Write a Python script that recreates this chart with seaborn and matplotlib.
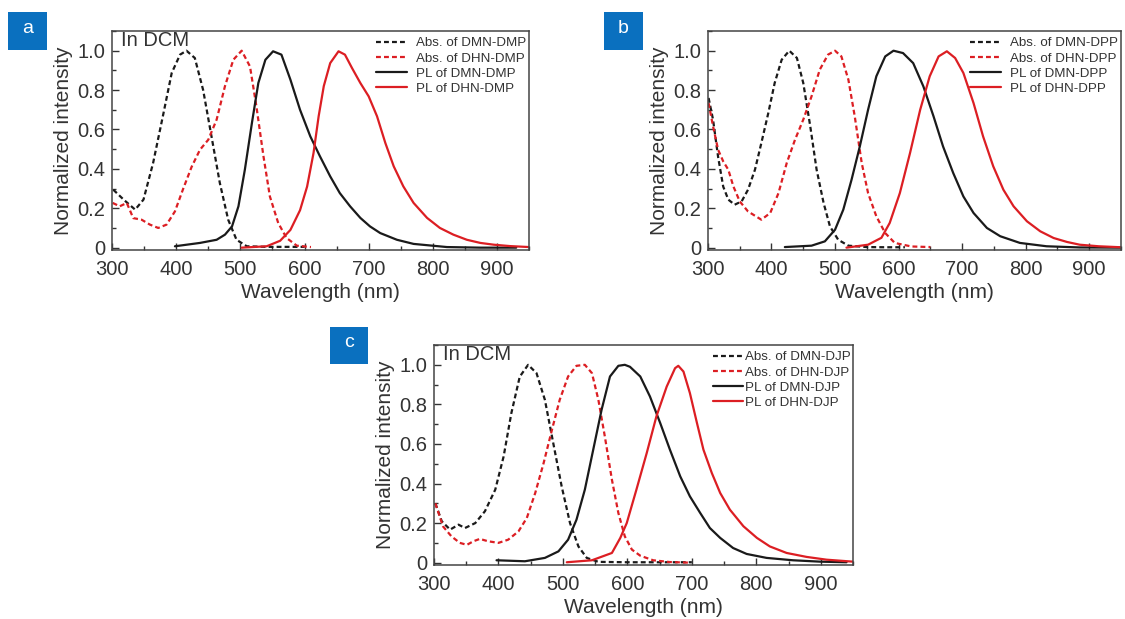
import numpy as np
import matplotlib
matplotlib.use("Agg")
import matplotlib.pyplot as plt
from matplotlib.patches import Rectangle
from matplotlib.ticker import MultipleLocator, FuncFormatter
import seaborn as sns

sns.set_style("ticks")
plt.rcParams['font.family'] = ['Liberation Sans', 'DejaVu Sans']

# ---- panel a : DMN-DMP / DHN-DMP ----
a_abs_dmn_x = [302, 318, 336, 349, 364, 380, 393, 406, 416, 429, 442, 455, 468, 481, 494, 510, 540, 570, 600]
a_abs_dmn_y = [0.294, 0.244, 0.193, 0.244, 0.43, 0.68, 0.887, 0.98, 1.0, 0.963, 0.80, 0.565, 0.328, 0.142, 0.04, 0.007, 0.004, 0.004, 0.004]
a_abs_dhn_x = [301, 312, 323, 333, 346, 359, 372, 385, 398, 411, 424, 437, 450, 463, 476, 489, 502, 515, 525, 536, 546, 559, 572, 588, 610]
a_abs_dhn_y = [0.227, 0.21, 0.227, 0.15, 0.142, 0.117, 0.10, 0.117, 0.184, 0.30, 0.41, 0.497, 0.548, 0.65, 0.82, 0.954, 1.0, 0.92, 0.717, 0.464, 0.26, 0.125, 0.049, 0.01, 0.003]
a_pl_dmn_x = [398, 437, 463, 476, 487, 497, 507, 518, 528, 539, 551, 564, 578, 593, 609, 624, 640, 655, 671, 687, 702, 718, 744, 770, 822, 874, 930]
a_pl_dmn_y = [0.007, 0.024, 0.04, 0.066, 0.108, 0.21, 0.396, 0.633, 0.836, 0.954, 0.997, 0.98, 0.853, 0.70, 0.565, 0.464, 0.362, 0.277, 0.21, 0.151, 0.108, 0.074, 0.04, 0.019, 0.003, 0.0, 0.0]
a_pl_dhn_x = [502, 541, 562, 578, 593, 604, 614, 622, 630, 640, 653, 663, 674, 687, 700, 713, 726, 739, 754, 770, 791, 811, 832, 853, 874, 895, 920, 950]
a_pl_dhn_y = [0.0, 0.007, 0.035, 0.09, 0.19, 0.31, 0.48, 0.667, 0.82, 0.937, 0.997, 0.98, 0.912, 0.836, 0.768, 0.667, 0.531, 0.413, 0.311, 0.227, 0.151, 0.10, 0.066, 0.04, 0.024, 0.015, 0.008, 0.003]

# ---- panel b : DMN-DPP / DHN-DPP ----
b_abs_dmn_x = [301, 308, 316, 324, 332, 342, 353, 363, 374, 384, 395, 405, 416, 428, 440, 450, 461, 471, 482, 492, 505, 521, 550, 580, 610]
b_abs_dmn_y = [0.76, 0.65, 0.46, 0.31, 0.244, 0.218, 0.235, 0.294, 0.396, 0.531, 0.684, 0.836, 0.954, 1.0, 0.963, 0.836, 0.616, 0.396, 0.227, 0.108, 0.04, 0.01, 0.003, 0.002, 0.002]
b_abs_dhn_x = [301, 308, 316, 324, 332, 340, 350, 363, 377, 384, 398, 411, 424, 437, 450, 463, 476, 489, 500, 510, 521, 531, 542, 552, 565, 579, 594, 620, 650]
b_abs_dhn_y = [0.734, 0.616, 0.497, 0.438, 0.396, 0.311, 0.235, 0.184, 0.156, 0.142, 0.176, 0.277, 0.43, 0.548, 0.65, 0.768, 0.904, 0.98, 1.0, 0.971, 0.853, 0.667, 0.43, 0.277, 0.159, 0.074, 0.024, 0.006, 0.003]
b_pl_dmn_x = [421, 463, 484, 500, 513, 526, 539, 552, 565, 579, 592, 607, 623, 639, 655, 670, 686, 702, 718, 739, 760, 791, 833, 885, 950]
b_pl_dmn_y = [0.003, 0.01, 0.032, 0.091, 0.193, 0.345, 0.514, 0.70, 0.87, 0.971, 1.0, 0.988, 0.937, 0.819, 0.667, 0.514, 0.379, 0.26, 0.176, 0.10, 0.058, 0.024, 0.007, 0.001, 0.0]
b_pl_dhn_x = [518, 552, 573, 586, 602, 618, 634, 649, 663, 676, 689, 702, 718, 733, 749, 765, 781, 802, 823, 844, 865, 885, 915, 950]
b_pl_dhn_y = [0.0, 0.015, 0.05, 0.125, 0.277, 0.48, 0.70, 0.87, 0.971, 0.997, 0.963, 0.887, 0.734, 0.565, 0.413, 0.294, 0.21, 0.134, 0.083, 0.049, 0.029, 0.015, 0.007, 0.002]

# ---- panel c : DMN-DJP / DHN-DJP ----
c_abs_dmn_x = [302, 312, 325, 338, 348, 364, 379, 395, 408, 420, 433, 446, 459, 472, 485, 498, 511, 524, 537, 555, 600, 650, 700]
c_abs_dmn_y = [0.30, 0.209, 0.167, 0.192, 0.175, 0.20, 0.26, 0.369, 0.537, 0.756, 0.94, 1.0, 0.958, 0.823, 0.604, 0.386, 0.20, 0.082, 0.024, 0.004, 0.002, 0.002, 0.002]
c_abs_dhn_x = [302, 314, 327, 340, 351, 361, 371, 384, 400, 415, 431, 444, 457, 470, 483, 495, 508, 521, 534, 545, 555, 565, 576, 586, 596, 607, 620, 640, 666, 697]
c_abs_dhn_y = [0.30, 0.183, 0.133, 0.10, 0.09, 0.108, 0.12, 0.108, 0.10, 0.116, 0.158, 0.226, 0.352, 0.503, 0.672, 0.823, 0.941, 0.995, 1.0, 0.958, 0.823, 0.638, 0.419, 0.251, 0.133, 0.066, 0.035, 0.012, 0.003, 0.0]
c_pl_dmn_x = [397, 441, 472, 493, 508, 521, 534, 547, 560, 573, 586, 596, 604, 620, 635, 651, 666, 682, 697, 713, 728, 744, 764, 785, 816, 857, 899, 940]
c_pl_dmn_y = [0.012, 0.007, 0.024, 0.057, 0.116, 0.217, 0.369, 0.571, 0.773, 0.941, 0.995, 1.0, 0.99, 0.941, 0.84, 0.705, 0.571, 0.436, 0.335, 0.251, 0.175, 0.125, 0.074, 0.044, 0.024, 0.012, 0.005, 0.002]
c_pl_dhn_x = [506, 545, 576, 589, 599, 614, 630, 645, 661, 674, 679, 687, 697, 708, 718, 731, 744, 759, 780, 801, 821, 847, 878, 909, 950]
c_pl_dhn_y = [0.002, 0.012, 0.049, 0.125, 0.20, 0.369, 0.554, 0.739, 0.89, 0.983, 0.995, 0.966, 0.857, 0.705, 0.571, 0.453, 0.352, 0.268, 0.184, 0.125, 0.082, 0.049, 0.029, 0.015, 0.005]

panels = [
    ("a", "DMP", True, [0.0996, 0.5961, 0.3707, 0.3538], (0.0071, 0.919, 0.0347, 0.0614),
     [(a_abs_dmn_x, a_abs_dmn_y), (a_abs_dhn_x, a_abs_dhn_y), (a_pl_dmn_x, a_pl_dmn_y), (a_pl_dhn_x, a_pl_dhn_y)], 0.7),
    ("b", "DPP", False, [0.6293, 0.5961, 0.3671, 0.3538], (0.5369, 0.919, 0.0347, 0.0614),
     [(b_abs_dmn_x, b_abs_dmn_y), (b_abs_dhn_x, b_abs_dhn_y), (b_pl_dmn_x, b_pl_dmn_y), (b_pl_dhn_x, b_pl_dhn_y)], 0.7),
    ("c", "DJP", True, [0.3858, 0.0872, 0.3724, 0.3554], (0.2933, 0.412, 0.0338, 0.0598),
     [(c_abs_dmn_x, c_abs_dmn_y), (c_abs_dhn_x, c_abs_dhn_y), (c_pl_dmn_x, c_pl_dmn_y), (c_pl_dhn_x, c_pl_dhn_y)], 0.1),
]

black = "#1a1a1a"
red = "#dc1e23"
dash = (0, (2.2, 1.4))
styles = [(black, dash), (red, dash), (black, "-"), (red, "-")]
txt = "#333333"

fig = plt.figure(figsize=(11.25, 6.19), dpi=100)

for letter, comp, dcm, rect, box, curves, tpad in panels:
    ax = fig.add_axes(rect)
    labels = [f"Abs. of DMN-{comp}", f"Abs. of DHN-{comp}", f"PL of DMN-{comp}", f"PL of DHN-{comp}"]
    for (xs, ys), (col, ls), lab in zip(curves, styles, labels):
        sns.lineplot(x=xs, y=ys, ax=ax, color=col, linestyle=ls, lw=1.6, sort=False,
                     estimator=None, label=lab)
    ax.set_xlim(300, 950)
    ax.set_ylim(-0.012, 1.1)
    ax.xaxis.set_major_locator(MultipleLocator(100))
    ax.xaxis.set_minor_locator(MultipleLocator(50))
    ax.yaxis.set_major_locator(MultipleLocator(0.2))
    ax.yaxis.set_minor_locator(MultipleLocator(0.1))
    ax.yaxis.set_major_formatter(FuncFormatter(lambda v, p: "0" if abs(v) < 1e-9 else f"{v:.1f}"))
    ax.tick_params(which="both", direction="in", top=False, right=False, colors=txt,
                   labelsize=14.5)
    ax.tick_params(axis="x", pad=7)
    ax.tick_params(axis="y", pad=5)
    ax.tick_params(which="major", length=5, width=1)
    ax.tick_params(which="minor", length=3, width=1)
    for s in ax.spines.values():
        s.set_color("#444444")
        s.set_linewidth(1.1)
    ax.set_xlabel("Wavelength (nm)", fontsize=15, color=txt, labelpad=3)
    ax.set_ylabel("Normalized intensity", fontsize=15, color=txt, labelpad=3)
    if dcm:
        ax.text(0.022, 0.955, "In DCM", transform=ax.transAxes, fontsize=14.5,
                color=txt, va="center", ha="left")
    leg = ax.legend(loc="upper right", bbox_to_anchor=(1.0, 0.985), frameon=False,
                    fontsize=9.6, handlelength=2.3, handletextpad=tpad, labelspacing=0.22,
                    borderaxespad=0.0, borderpad=0.2)
    for t in leg.get_texts():
        t.set_color(txt)
    # blue panel tag
    fig.patches.append(Rectangle((box[0], box[1]), box[2], box[3], transform=fig.transFigure,
                                 facecolor="#0a70bf", edgecolor="none", figure=fig))
    fig.text(box[0] + box[2] / 2, box[1] + box[3] / 2 + 0.004, letter, color="white",
             fontsize=14, ha="center", va="center")

fig.savefig("out.png", dpi=100)
